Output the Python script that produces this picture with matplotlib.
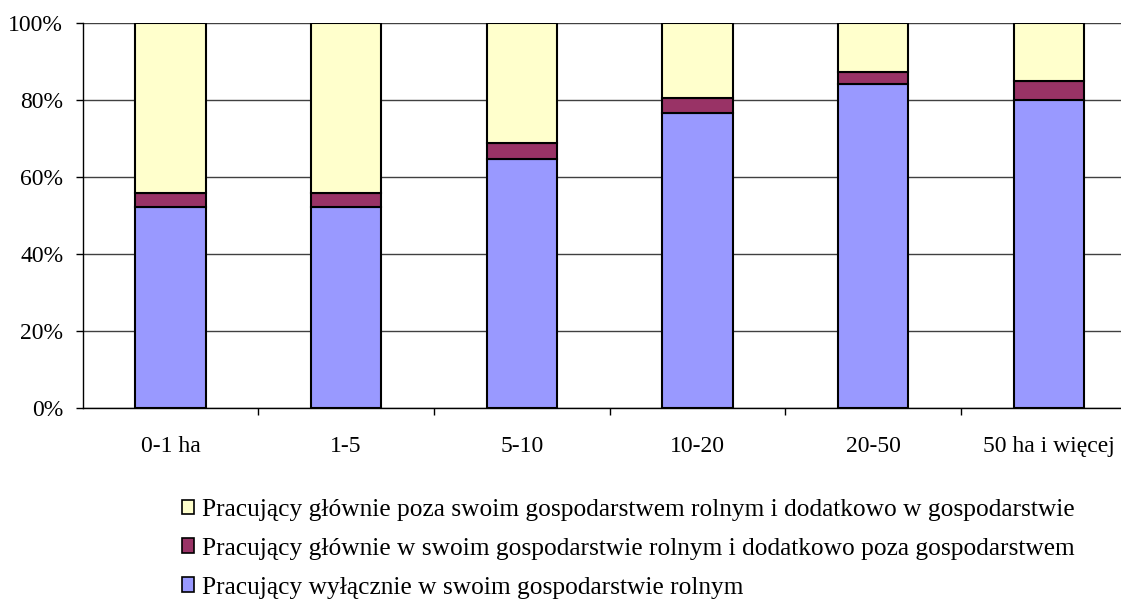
import matplotlib
matplotlib.use("Agg")
import matplotlib.pyplot as plt
import numpy as np
from matplotlib.patches import Patch
from matplotlib.ticker import FixedLocator, PercentFormatter

plt.rcParams['font.family'] = ['Liberation Serif', 'DejaVu Serif']

# farm size groups and share of farm users (%) by type of work
groups = ['0-1 ha', '1-5', '5-10', '10-20', '20-50', '50 ha i więcej']
only_farm = [52.3, 52.3, 64.6, 76.6, 84.2, 80.0]
mainly_farm = [3.5, 3.5, 4.3, 3.8, 3.0, 4.9]
mainly_outside = [44.2, 44.2, 31.1, 19.6, 12.8, 15.1]

labels = ['Pracujący głównie poza swoim gospodarstwem rolnym i dodatkowo w gospodarstwie',
          'Pracujący głównie w swoim gospodarstwie rolnym i dodatkowo poza gospodarstwem',
          'Pracujący wyłącznie w swoim gospodarstwie rolnym']
colors = ['#FFFFCC', '#993366', '#9999FF']

fig = plt.figure(figsize=(11.21, 5.99), dpi=100)
ax = fig.add_axes([0.0738, 0.3189, 0.94, 0.6427])

x = np.arange(len(groups))
w = 0.40
ax.bar(x, only_farm, w, color=colors[2], edgecolor='black', linewidth=1.5, zorder=3)
ax.bar(x, mainly_farm, w, bottom=only_farm, color=colors[1], edgecolor='black',
       linewidth=1.5, zorder=3)
bottom2 = np.array(only_farm) + np.array(mainly_farm)
ax.bar(x, mainly_outside, w, bottom=bottom2, color=colors[0], edgecolor='black',
       linewidth=1.5, zorder=3)

ax.set_xlim(-0.5, len(groups) - 0.5)
ax.set_ylim(0, 100)
ax.set_yticks(np.arange(0, 101, 20))
ax.yaxis.set_major_formatter(PercentFormatter(decimals=0))
ax.yaxis.grid(True, color='#404040', linewidth=1.0, zorder=0)

ax.set_xticks(x)
ax.set_xticklabels(groups)
ax.xaxis.set_minor_locator(FixedLocator(x[:-1] + 0.5))
ax.tick_params(axis='x', which='major', length=0, pad=20, labelsize=17)
ax.tick_params(axis='x', which='minor', length=5, width=1, direction='out')
ax.tick_params(axis='y', length=5, width=1, pad=9, labelsize=17)

for s in ['top', 'right']:
    ax.spines[s].set_visible(False)
for s in ['left', 'bottom']:
    ax.spines[s].set_linewidth(1.0)
    ax.spines[s].set_zorder(4)

handles = [Patch(facecolor=c, edgecolor='black', linewidth=1.2) for c in colors]
fig.legend(handles, labels, loc='upper left', bbox_to_anchor=(0.162, 0.167),
           frameon=False, fontsize=18.3, handlelength=0.5, handleheight=0.5,
           handletextpad=0.3, labelspacing=0.66, borderaxespad=0, borderpad=0)

fig.savefig('out.png', dpi=100)
